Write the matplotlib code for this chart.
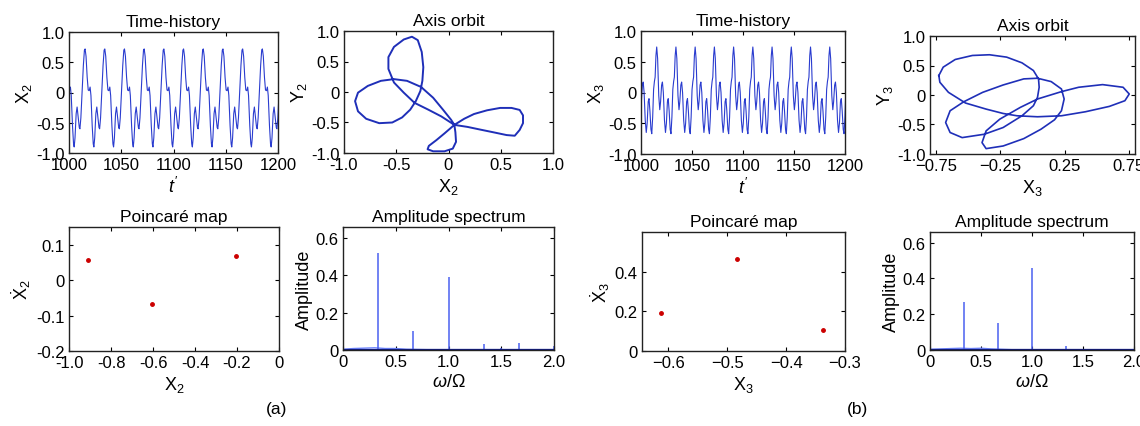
import numpy as np
import matplotlib
matplotlib.use('Agg')
import matplotlib.pyplot as plt

plt.rcParams['font.family'] = ['Liberation Sans', 'DejaVu Sans']
plt.rcParams['mathtext.fontset'] = 'custom'
plt.rcParams['mathtext.rm'] = 'Liberation Sans'
plt.rcParams['mathtext.it'] = 'Liberation Sans:italic'

# ---- data ----
PERIOD = 18.85          # period-3 motion, 6*pi
T_FIRST_PEAK = 1015.4   # first big peak in both time histories

# (a) one period of X2, starting at the big peak
tau_a = [0.0, 0.9, 2.0, 3.0, 3.9, 4.8, 5.6, 6.8, 7.8, 8.4, 9.2, 10.3,
         11.2, 12.2, 13.3, 13.9, 14.8, 16.0, 17.2, 18.2]
x2_wave = [0.72, 0.60, 0.25, 0.04, 0.03, 0.09, -0.05, -0.55, -0.85, -0.90,
           -0.75, -0.35, -0.24, -0.40, -0.58, -0.60, -0.42, 0.0, 0.45, 0.70]

# (b) one period of X3, starting at the big peak
tau_b = [0.0, 0.9, 2.0, 3.0, 3.8, 4.8, 5.6, 6.5, 7.6, 8.6, 9.5, 10.5,
         11.3, 12.2, 13.2, 14.0, 14.9, 15.8, 16.6, 17.3, 18.1]
x3_wave = [0.74, 0.55, -0.05, -0.28, -0.15, 0.12, 0.17, 0.0, -0.45, -0.65,
           -0.50, -0.15, -0.10, -0.30, -0.60, -0.67, -0.40, 0.05, 0.18, 0.25, 0.60]

# (a) axis orbit X2-Y2
orbit_a_x = [0.056, 0.15, 0.244, 0.369, 0.494, 0.603, 0.681, 0.713, 0.713, 0.681,
             0.634, 0.556, 0.431, 0.306, 0.181, 0.056,
             -0.038, -0.116, -0.188, -0.20, -0.147, -0.038, 0.041, 0.072, 0.066, 0.056,
             -0.069, -0.194, -0.325, -0.428, -0.522, -0.575, -0.575, -0.522, -0.428, -0.35,
             -0.294, -0.256, -0.241, -0.25, -0.269, -0.313, -0.366, -0.444, -0.538, -0.663,
             -0.788, -0.866, -0.894, -0.866, -0.772, -0.647, -0.522, -0.397, -0.263, -0.147,
             -0.053, 0.025, 0.056]
orbit_a_y = [-0.539, -0.439, -0.361, -0.30, -0.261, -0.261, -0.294, -0.383, -0.511, -0.622,
             -0.717, -0.706, -0.661, -0.617, -0.572, -0.539,
             -0.678, -0.789, -0.883, -0.939, -0.972, -0.972, -0.928, -0.817, -0.661, -0.539,
             -0.40, -0.289, -0.178, -0.011, 0.156, 0.378, 0.572, 0.739, 0.861, 0.906,
             0.85, 0.656, 0.406, 0.183, 0.017, -0.15, -0.289, -0.417, -0.50, -0.511,
             -0.439, -0.317, -0.15, -0.011, 0.10, 0.183, 0.211, 0.183, 0.083, -0.094,
             -0.289, -0.456, -0.539]

# (b) axis orbit X3-Y3
orbit_b_x = [-0.731, -0.697, -0.603, -0.469, -0.336, -0.202, -0.082, 0.007, 0.047, 0.052,
             0.039, 0.007, -0.082, -0.229, -0.376, -0.549, -0.643, -0.678, -0.643, -0.536,
             -0.389, -0.229, -0.068, 0.039, 0.146, 0.226, 0.247, 0.226, 0.172, 0.066,
             -0.068, -0.229, -0.362, -0.394, -0.362, -0.255, -0.095, 0.039, 0.226, 0.360,
             0.547, 0.707, 0.755, 0.721, 0.600, 0.413, 0.226, 0.039, -0.122, -0.229,
             -0.362, -0.523, -0.656, -0.723, -0.731]
orbit_b_y = [0.33, 0.472, 0.602, 0.670, 0.682, 0.642, 0.545, 0.415, 0.273, 0.131,
             -0.040, -0.182, -0.352, -0.551, -0.665, -0.722, -0.636, -0.466, -0.267, -0.114,
             0.045, 0.170, 0.273, 0.284, 0.227, 0.102, -0.068, -0.267, -0.420, -0.580,
             -0.739, -0.864, -0.909, -0.807, -0.608, -0.409, -0.210, -0.068, 0.057, 0.131,
             0.176, 0.131, 0.017, -0.097, -0.193, -0.284, -0.352, -0.369, -0.352, -0.313,
             -0.239, -0.136, 0.045, 0.216, 0.33]

# Poincare points
poin_a_x = [-0.909, -0.604, -0.204]
poin_a_y = [0.056, -0.066, 0.069]
poin_b_x = [-0.612, -0.483, -0.337]
poin_b_y = [0.19, 0.465, 0.108]

# amplitude spectra: peaks and the low background
spec_a_f = [0.333, 0.667, 1.0, 1.333, 1.5, 1.667, 2.0]
spec_a_amp = [0.52, 0.10, 0.39, 0.03, 0.01, 0.04, 0.02]
spec_b_f = [0.333, 0.667, 1.0, 1.333, 1.667, 2.0]
spec_b_amp = [0.27, 0.15, 0.46, 0.02, 0.006, 0.005]
bg_f = [0.0, 0.1, 0.2, 0.3, 0.4, 0.5, 0.6, 0.8, 1.2, 1.6, 2.0]
bg_a = [0.004, 0.008, 0.01, 0.012, 0.008, 0.008, 0.004, 0.002, 0.002, 0.002, 0.002]
bg_b = [0.004, 0.006, 0.008, 0.01, 0.008, 0.01, 0.006, 0.002, 0.002, 0.002, 0.002]


def tile(tau, vals):
    tt, vv = [], []
    for k in range(-1, 12):
        tt += [T_FIRST_PEAK + k * PERIOD + s for s in tau]
        vv += list(vals)
    return np.array(tt), np.array(vv)


W, H = 1140, 427
fig = plt.figure(figsize=(W / 100, H / 100), dpi=100)


def box(l, r, t, b):
    return fig.add_axes([l / W, (H - b) / H, (r - l) / W, (b - t) / H])


def style(ax, title, xlabel, ylabel):
    ax.set_title(title, fontsize=12.5, pad=4)
    ax.set_xlabel(xlabel, fontsize=13, labelpad=3)
    ax.set_ylabel(ylabel, fontsize=13, labelpad=2)
    ax.tick_params(direction='in', top=True, right=True, length=3, width=0.8,
                   labelsize=12, pad=3)
    for sp in ax.spines.values():
        sp.set_linewidth(1.0)
        sp.set_color('#222222')


line_col = '#2a3ccf'
orbit_col = '#1f2fb8'
dot_col = '#cc0000'

# time history (a)
ax = box(69, 278, 33, 154)
t, v = tile(tau_a, x2_wave)
ax.plot(t, v, color=line_col, lw=0.8)
ax.set_xlim(1000, 1200)
ax.set_ylim(-1, 1)
ax.set_xticks([1000, 1050, 1100, 1150, 1200])
ax.set_yticks([-1, -0.5, 0, 0.5, 1])
ax.set_yticklabels(['-1.0', '-0.5', '0', '0.5', '1.0'])
style(ax, 'Time-history', r"$t'$", r'X$_2$')

# orbit (a)
ax = box(344, 553, 32, 154)
ax.plot(orbit_a_x, orbit_a_y, color=orbit_col, lw=1.4)
ax.set_xlim(-1, 1)
ax.set_ylim(-1, 1)
ax.set_xticks([-1, -0.5, 0, 0.5, 1])
ax.set_xticklabels(['-1.0', '-0.5', '0', '0.5', '1.0'])
ax.set_yticks([-1, -0.5, 0, 0.5, 1])
ax.set_yticklabels(['-1.0', '-0.5', '0', '0.5', '1.0'])
style(ax, 'Axis orbit', r'X$_2$', r'Y$_2$')

# time history (b)
ax = box(641, 845, 32, 155)
t, v = tile(tau_b, x3_wave)
ax.plot(t, v, color=line_col, lw=0.8)
ax.set_xlim(1000, 1200)
ax.set_ylim(-1, 1)
ax.set_xticks([1000, 1050, 1100, 1150, 1200])
ax.set_yticks([-1, -0.5, 0, 0.5, 1])
ax.set_yticklabels(['-1.0', '-0.5', '0', '0.5', '1.0'])
style(ax, 'Time-history', r"$t'$", r'X$_3$')

# orbit (b)
ax = box(930, 1135, 37, 155)
ax.plot(orbit_b_x, orbit_b_y, color=orbit_col, lw=1.2)
ax.set_xlim(-0.8, 0.8)
ax.set_ylim(-1, 1)
ax.set_xticks([-0.75, -0.25, 0.25, 0.75])
ax.set_yticks([-1, -0.5, 0, 0.5, 1])
ax.set_yticklabels(['-1.0', '-0.5', '0', '0.5', '1.0'])
style(ax, 'Axis orbit', r'X$_3$', r'Y$_3$')

# poincare (a)
ax = box(69, 279, 228, 352)
ax.plot(poin_a_x, poin_a_y, 'o', color=dot_col, ms=2.5)
ax.set_xlim(-1, 0)
ax.set_ylim(-0.2, 0.15)
ax.set_xticks([-1, -0.8, -0.6, -0.4, -0.2, 0])
ax.set_xticklabels(['-1.0', '-0.8', '-0.6', '-0.4', '-0.2', '0'])
ax.set_yticks([-0.2, -0.1, 0, 0.1])
ax.set_yticklabels(['-0.2', '-0.1', '0', '0.1'])
style(ax, 'Poincaré map', r'X$_2$', r'$\dot{\mathrm{X}}_2$')

# spectrum (a)
ax = box(343, 554, 228, 351)
ax.plot(bg_f, bg_a, color='#6f86ff', lw=1.0)
ax.vlines(spec_a_f, 0, spec_a_amp, color='#4a60f0', lw=1.1)
ax.axhline(0.002, color='#101a80', lw=1.6)
ax.set_xlim(0, 2)
ax.set_ylim(0, 0.66)
ax.set_xticks([0, 0.5, 1, 1.5, 2])
ax.set_xticklabels(['0', '0.5', '1.0', '1.5', '2.0'])
ax.set_yticks([0, 0.2, 0.4, 0.6])
ax.set_yticklabels(['0', '0.2', '0.4', '0.6'])
style(ax, 'Amplitude spectrum', r'$\omega/\Omega$', 'Amplitude')

# poincare (b)
ax = box(642, 845, 233, 352)
ax.plot(poin_b_x, poin_b_y, 'o', color=dot_col, ms=2.5)
ax.set_xlim(-0.645, -0.3)
ax.set_ylim(0, 0.6)
ax.set_xticks([-0.6, -0.5, -0.4, -0.3])
ax.set_yticks([0, 0.2, 0.4])
ax.set_yticklabels(['0', '0.2', '0.4'])
style(ax, 'Poincaré map', r'X$_3$', r'$\dot{\mathrm{X}}_3$')

# spectrum (b)
ax = box(930, 1134, 233, 351)
ax.plot(bg_f, bg_b, color='#6f86ff', lw=1.0)
ax.vlines(spec_b_f, 0, spec_b_amp, color='#4a60f0', lw=1.1)
ax.axhline(0.002, color='#101a80', lw=1.6)
ax.set_xlim(0, 2)
ax.set_ylim(0, 0.66)
ax.set_xticks([0, 0.5, 1, 1.5, 2])
ax.set_xticklabels(['0', '0.5', '1.0', '1.5', '2.0'])
ax.set_yticks([0, 0.2, 0.4, 0.6])
ax.set_yticklabels(['0', '0.2', '0.4', '0.6'])
style(ax, 'Amplitude spectrum', r'$\omega/\Omega$', 'Amplitude')

fig.text(277 / W, 1 - 410 / H, '(a)', fontsize=12.5, ha='center', va='center')
fig.text(858 / W, 1 - 410 / H, '(b)', fontsize=12.5, ha='center', va='center')

fig.savefig('out.png', dpi=100)
